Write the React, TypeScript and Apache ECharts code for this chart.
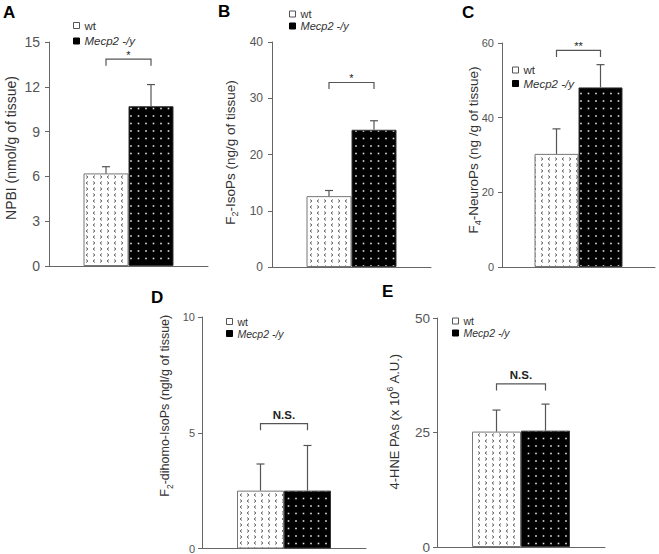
import React, { useEffect, useRef } from 'react';
import * as echarts from 'echarts';

const groupNames = ['wt', 'Mecp2 -/y'];
const panelLetters = ['A', 'B', 'C', 'D', 'E'];

// Panel A: NPBI (nmol/g of tissue)
const npbiMean = [6.2, 10.7];
const npbiSem = [0.45, 1.45];
// Panel B: F2-IsoPs (ng/g of tissue)
const f2IsoMean = [12.6, 24.4];
const f2IsoSem = [1.0, 1.6];
// Panel C: F4-NeuroPs (ng/g of tissue)
const f4NeuroMean = [30.3, 48.1];
const f4NeuroSem = [6.7, 6.1];
// Panel D: F2-dihomo-IsoPs (ng/g of tissue)
const dihomoMean = [2.5, 2.5];
const dihomoSem = [1.15, 1.95];
// Panel E: 4-HNE PAs (x10^6 A.U.)
const hneMean = [25.2, 25.4];
const hneSem = [4.7, 5.8];

// axis ranges / tick intervals
const yMaxes = [15, 40, 60, 10, 50];
const yIntervals = [3, 10, 20, 5, 25];
// significance brackets
const sigLabels = ['*', '*', '**', 'N.S.', 'N.S.'];
const sigLevels = [13.85, 32.8, 58, 5.39, 35.6];

const axisTitles = [
  'NPBI (nmol/g of tissue)',
  'F{sub|2}-IsoPs (ng/g of tissue)',
  'F{sub|4}-NeuroPs (ng /g of tissue)',
  'F{sub|2}-dihomo-IsoPs (ngl/g of tissue)',
  '4-HNE PAs (x 10{sup|6} A.U.)',
];

const means = [npbiMean, f2IsoMean, f4NeuroMean, dihomoMean, hneMean];
const sems = [npbiSem, f2IsoSem, f4NeuroSem, dihomoSem, hneSem];

// layout (pixels)
const grids = [
  { left: 49, top: 42, width: 159, height: 224 },
  { left: 272, top: 42, width: 159, height: 225 },
  { left: 502, top: 43, width: 153, height: 224 },
  { left: 202, top: 317, width: 164, height: 232 },
  { left: 437, top: 318, width: 168, height: 230 },
];
const barWidths = [45, 45, 44, 47, 49];
const labelFont = [14, 12, 11, 11, 13.5];
const labelMargin = [9, 9, 8, 7, 7];
const titleFont = [14, 13.5, 13.5, 12.5, 13];
const nameGaps = [29, 33, 20, 28, 34];
const namePad = [12, 4, 10, 54, 22];
const legendPos = [
  { left: 73, top: 19.5, font: 11.5, gap: 3.5 },
  { left: 289, top: 8.5, font: 11, gap: 1 },
  { left: 512, top: 64, font: 11.5, gap: 1.5 },
  { left: 226, top: 316, font: 10.5, gap: 1 },
  { left: 452, top: 315.5, font: 10.5, gap: 1 },
];
const letterPos = [
  { x: 3, y: 4 },
  { x: 218, y: 2.5 },
  { x: 462, y: 4 },
  { x: 151, y: 289 },
  { x: 382, y: 282.5 },
];

function makeWtPattern(): string {
  const c = document.createElement('canvas');
  c.width = 14;
  c.height = 12;
  const g = c.getContext('2d')!;
  g.fillStyle = '#ffffff';
  g.fillRect(0, 0, 14, 12);
  g.strokeStyle = '#555';
  g.lineWidth = 0.9;
  const lt = (x: number, y: number) => {
    g.beginPath();
    g.moveTo(x + 2, y);
    g.lineTo(x, y + 1.5);
    g.lineTo(x + 2, y + 3);
    g.stroke();
  };
  const gt = (x: number, y: number) => {
    g.beginPath();
    g.moveTo(x, y);
    g.lineTo(x + 2, y + 1.5);
    g.lineTo(x, y + 3);
    g.stroke();
  };
  lt(2, 1.5);
  gt(9, 1.5);
  gt(2, 7.5);
  lt(9, 7.5);
  return c.toDataURL();
}

function makeDotPattern(): string {
  const c = document.createElement('canvas');
  c.width = 15;
  c.height = 15;
  const g = c.getContext('2d')!;
  g.fillStyle = '#000';
  g.fillRect(0, 0, 15, 15);
  g.fillStyle = '#e0e0e0';
  [[3.5, 3.5], [11, 3.5], [3.5, 11], [11, 11]].forEach(([x, y]) => {
    g.fillRect(x - 0.8, y - 0.8, 1.6, 1.6);
  });
  return c.toDataURL();
}

export default function App() {
  const ref = useRef<HTMLDivElement>(null);
  useEffect(() => {
    if (!ref.current) return;
    const chart = echarts.init(ref.current, undefined, { renderer: 'svg' });
    const wtFill: any = { image: makeWtPattern(), repeat: 'repeat', imageWidth: 14, imageHeight: 12 };
    const mutFill: any = { image: makeDotPattern(), repeat: 'repeat', imageWidth: 15, imageHeight: 15 };
    const axisColor = '#666';

    const series: any[] = [];
    for (let p = 0; p < 5; p++) {
      const bw = barWidths[p];
      series.push({
        type: 'bar', name: groupNames[0], xAxisIndex: p, yAxisIndex: p,
        data: [means[p][0]], barWidth: bw, barGap: '0%',
        itemStyle: { color: wtFill, borderColor: '#777', borderWidth: 1 },
      });
      series.push({
        type: 'bar', name: groupNames[1], xAxisIndex: p, yAxisIndex: p,
        data: [means[p][1]], barWidth: bw, barGap: '0%',
        itemStyle: { color: mutFill, borderColor: '#333', borderWidth: 1 },
      });
      series.push({
        type: 'custom', name: 'err' + p, xAxisIndex: p, yAxisIndex: p, silent: true, z: 5,
        data: means[p].map((m, i) => [0, m, m + sems[p][i], i]),
        renderItem: (_params: any, api: any) => {
          const i = api.value(3);
          const base = api.coord([0, api.value(1)]);
          const top = api.coord([0, api.value(2)]);
          const x = base[0] + (i === 0 ? -bw / 2 : bw / 2);
          const st = { stroke: '#555', lineWidth: 1.2 };
          return {
            type: 'group',
            children: [
              { type: 'line', shape: { x1: x, y1: base[1], x2: x, y2: top[1] }, style: st },
              { type: 'line', shape: { x1: x - 4, y1: top[1], x2: x + 4, y2: top[1] }, style: st },
            ],
          };
        },
      });
      series.push({
        type: 'custom', name: 'sig' + p, xAxisIndex: p, yAxisIndex: p, silent: true, z: 5,
        data: [[0, sigLevels[p]]],
        renderItem: (_params: any, api: any) => {
          const c = api.coord([0, api.value(1)]);
          const x1 = c[0] - bw / 2;
          const x2 = c[0] + bw / 2;
          const y = c[1];
          const isNS = sigLabels[p] === 'N.S.';
          return {
            type: 'group',
            children: [
              {
                type: 'polyline',
                shape: { points: [[x1, y + 6.5], [x1, y], [x2, y], [x2, y + 6.5]] },
                style: { stroke: '#555', lineWidth: 1.2, fill: 'none' },
              },
              {
                type: 'text', x: c[0], y: isNS ? y - 3 : y + 1,
                style: {
                  text: sigLabels[p], align: 'center', verticalAlign: 'bottom',
                  fontSize: isNS ? 11.5 : 11, fontWeight: isNS ? 'bold' : 'normal',
                  fill: '#222', fontFamily: 'Liberation Sans, Arial, sans-serif',
                },
              },
            ],
          };
        },
      });
    }

    const option: any = {
      animation: false,
      textStyle: { fontFamily: 'Liberation Sans, Arial, sans-serif' },
      grid: grids.map((g) => ({ ...g, containLabel: false })),
      xAxis: grids.map((_g, p) => ({
        type: 'category', gridIndex: p, data: ['group'],
        axisLine: { show: true, lineStyle: { color: axisColor, width: 1 } },
        axisTick: { show: false }, axisLabel: { show: false },
      })),
      yAxis: grids.map((_g, p) => ({
        type: 'value', gridIndex: p, min: 0, max: yMaxes[p], interval: yIntervals[p],
        splitLine: { show: false },
        axisLine: { show: true, lineStyle: { color: axisColor, width: 1 } },
        axisTick: { show: true, length: 4, lineStyle: { color: axisColor } },
        axisLabel: { fontSize: labelFont[p], color: '#555', margin: labelMargin[p] },
        name: axisTitles[p], nameLocation: 'middle', nameGap: nameGaps[p], nameRotate: 90,
        nameMoveOverlap: false,
        nameTextStyle: {
          fontSize: titleFont[p], color: '#333', lineHeight: 18,
          padding: [0, 0, 0, namePad[p]],
          rich: {
            sub: { fontSize: titleFont[p] * 0.68, verticalAlign: 'bottom', lineHeight: 9, color: '#333' },
            sup: { fontSize: titleFont[p] * 0.68, verticalAlign: 'top', lineHeight: 9, color: '#333' },
          },
        },
      })),
      legend: legendPos.map((l) => ({
        orient: 'vertical', left: l.left, top: l.top, padding: 0,
        itemWidth: 6, itemHeight: 6, itemGap: l.gap, selectedMode: false,
        textStyle: { fontSize: l.font, color: '#333', lineHeight: l.font },
        data: [
          { name: groupNames[0], icon: 'rect', itemStyle: { color: '#fff', borderColor: '#555', borderWidth: 1 } },
          { name: groupNames[1], icon: 'rect', itemStyle: { color: '#000', borderColor: '#000', borderWidth: 1 }, textStyle: { fontStyle: 'italic' } },
        ],
      })),
      graphic: panelLetters.map((t, p) => ({
        type: 'text', left: letterPos[p].x, top: letterPos[p].y,
        style: { text: t, font: 'bold 17px Liberation Sans, Arial, sans-serif', fill: '#000' },
      })),
      series,
    };
    chart.setOption(option);
    return () => chart.dispose();
  }, []);
  return <div ref={ref} style={{ position: 'fixed', left: 0, top: 0, width: 659, height: 554, background: '#fff' }} />;
}
